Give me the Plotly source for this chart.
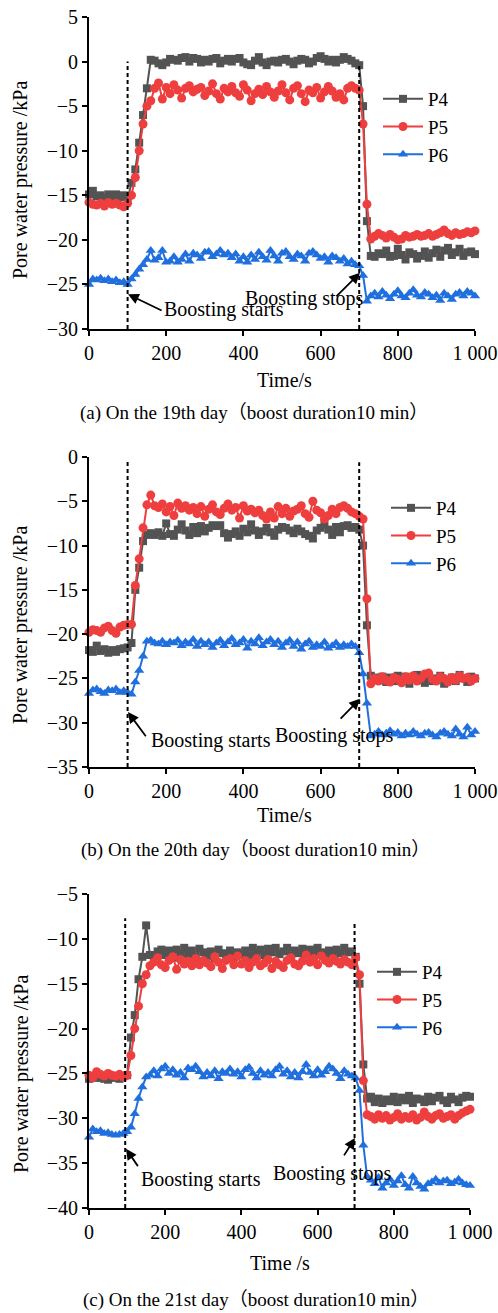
import plotly.graph_objects as go

# Sampling instants (s), one reading every 10 s
TIME = list(range(0, 1001, 10))

# ---- (a) 19th day ----
A_P4 = [-14.9, -14.5, -15.1, -15.0, -15.3, -14.9, -15.2, -14.9, -15.2, -15.0, -15.3,
        -13.6, -12.1, -9.1, -6.0, -3.0, 0.2,
        0.1, -0.2, -0.4, -0.1, 0.3, 0.2, 0.1, 0.4, 0.5, 0.0,
        0.4, 0.3, -0.1, 0.2, 0.0, 0.3, 0.4, -0.2, 0.1, 0.3,
        0.0, 0.3, 0.4, -0.1, -0.3, -0.4, 0.1, 0.5, -0.1, -0.4,
        0.0, 0.1, -0.1, 0.2, 0.3, 0.0, -0.3, 0.1, 0.3, 0.2,
        -0.2, 0.0, 0.4, 0.6, 0.3, 0.0, 0.2, -0.1, 0.2, 0.5,
        0.3, 0.1, -0.2,
        -0.4, -5.0, -17.9, -21.8,
        -21.9, -21.5, -21.6, -21.2, -21.9, -21.8, -21.0, -21.7, -22.2, -21.4,
        -21.6, -22.1, -21.8, -21.3, -22.0, -21.5, -21.1, -21.9, -21.2, -20.9,
        -21.7, -21.4, -21.0, -21.8, -21.4, -21.3, -21.6]
A_P5 = [-15.8, -16.0, -16.1, -15.9, -16.2, -15.8, -16.0, -15.9, -16.1, -16.3, -15.9,
        -15.0, -13.0, -10.0, -7.0, -5.0, -4.4,
        -3.0, -2.4, -4.2, -2.9, -3.6, -2.6, -3.2, -4.1, -3.0, -2.7,
        -3.4, -3.1, -2.9, -3.8, -3.3, -2.5, -3.6, -4.2, -3.0, -3.4,
        -2.8, -3.5, -3.9, -2.6, -3.2, -4.4, -3.6, -3.1, -3.7, -2.8,
        -3.4, -4.0, -3.3, -2.6, -3.5, -4.3, -3.0, -2.7, -3.6, -4.5,
        -3.2, -3.5, -2.9, -4.1, -3.4, -2.8, -3.3, -4.0, -3.6, -4.3,
        -3.0, -2.7, -3.0,
        -3.2, -7.0, -16.0, -19.9,
        -19.6, -19.3, -19.5, -19.8, -19.4, -19.7, -20.0, -19.9, -19.5, -19.7,
        -19.6, -19.4, -19.6, -19.5, -19.3, -19.6, -19.4, -19.2, -18.9, -19.3,
        -19.5, -19.2, -19.4, -19.3, -19.1, -19.2, -19.0]
A_P6 = [-25.0, -24.4, -24.5, -24.3, -24.6, -24.4, -24.7, -24.5, -24.8, -24.7, -25.0,
        -24.4, -23.9, -23.3, -22.8, -22.2, -21.2,
        -22.3, -22.0, -21.2, -22.5, -22.4, -21.9, -22.5, -22.2, -21.6, -22.4,
        -21.5, -21.7, -22.1, -21.4, -21.3, -21.9, -21.6, -21.2, -21.7, -21.5,
        -22.0, -21.6, -22.4, -21.9, -22.5, -21.7, -22.2, -21.4, -21.9, -22.3,
        -21.2, -21.8, -22.4, -21.5, -21.3, -21.9, -22.2, -21.6, -21.8, -22.4,
        -21.5, -21.3, -21.7, -22.1, -21.9, -22.5, -21.8, -22.0, -22.4, -22.1,
        -22.7, -22.4, -22.8,
        -22.9, -24.0, -26.9, -26.3,
        -26.0, -26.4, -25.8, -26.2, -26.6, -26.1, -25.7, -26.3, -26.5, -26.0,
        -25.6, -26.2, -26.4, -25.9, -26.1, -26.5, -26.2, -26.8, -26.0, -26.3,
        -26.7, -26.1, -25.9, -26.3, -25.8, -26.0, -26.3]

# ---- (b) 20th day ----
B_P4 = [-21.8, -22.0, -21.3, -21.9, -21.7, -22.1, -21.8, -22.0, -21.7, -21.6, -21.5,
        -21.0, -15.0, -12.5, -9.5, -8.8, -8.6,
        -8.8, -8.5, -8.9, -7.5, -8.7, -8.9, -8.2, -7.6, -8.3, -8.8,
        -7.9, -8.6, -7.8, -8.4, -8.0, -7.7, -7.8, -7.7, -8.6, -9.1,
        -8.7, -8.4, -8.9, -8.1, -8.5, -7.6, -8.3, -8.8, -8.4, -8.0,
        -8.5, -8.9, -8.2, -7.9, -8.0, -8.3, -8.6, -8.1, -8.4, -8.7,
        -8.9, -9.2, -8.3, -8.0, -7.6, -8.2, -8.8, -7.9, -8.5, -7.8,
        -7.7, -8.0, -7.9,
        -8.2, -10.0, -19.0, -24.7,
        -24.9, -25.2, -24.8, -25.4, -24.9, -25.3, -24.7, -25.1, -24.8, -25.6,
        -25.0, -24.6, -25.2, -25.5, -24.8, -25.3, -25.0, -24.7, -25.6, -25.2,
        -24.9, -25.3, -24.6, -25.0, -25.4, -24.8, -25.0]
B_P5 = [-19.8, -19.5, -19.6, -19.8, -19.3, -19.1, -19.6, -19.9, -19.2, -19.0, -18.9,
        -18.9, -14.5, -11.5, -8.0, -5.4, -4.3,
        -5.5, -5.7, -5.3, -6.2, -5.6, -6.6, -5.2, -5.8, -5.5, -6.0,
        -5.7, -6.4, -5.6, -6.7, -5.9, -5.4, -6.2, -6.5, -5.8, -5.3,
        -6.0, -5.7, -6.9, -5.5, -6.1, -5.9, -6.3, -6.0, -6.6, -7.0,
        -6.2, -6.9, -5.6, -6.4, -5.8, -6.7, -6.1, -5.9, -5.5, -6.4,
        -6.8, -5.0, -6.0, -6.3, -7.0, -6.6, -5.9, -6.4, -5.7, -5.5,
        -5.8, -6.2, -6.4,
        -6.7, -7.0, -16.0, -25.6,
        -25.0, -25.3, -24.8, -25.2, -25.4, -24.9, -25.1, -25.5, -24.8, -25.2,
        -24.7, -25.3, -25.0, -24.5, -24.4, -25.1, -25.3, -24.8, -25.0, -25.4,
        -24.9, -25.2, -24.7, -25.0, -24.9, -25.3, -25.0]
B_P6 = [-26.7, -26.3, -26.2, -26.5, -26.7, -26.3, -26.4, -26.2, -26.6, -26.4, -26.6,
        -26.8, -25.4, -24.1, -22.5, -20.8, -20.7,
        -21.0, -21.1, -20.8, -21.2, -20.9, -21.0, -20.7, -21.3, -20.9, -21.1,
        -20.6, -21.4, -20.8, -21.2, -20.9, -21.5, -21.0, -20.7, -21.3, -20.9,
        -20.5, -21.2, -21.0, -20.6, -21.6, -20.8, -21.1, -20.4, -21.3, -20.9,
        -20.6, -21.2, -20.8, -21.5, -21.0, -20.7, -21.4, -20.9, -21.7, -21.1,
        -20.8, -21.5, -21.2, -21.4, -20.9, -21.6, -21.3, -21.0, -21.5, -21.2,
        -21.4, -21.1, -21.4,
        -22.1, -24.5, -27.8, -31.5,
        -31.3, -31.0, -31.4, -31.2, -30.9, -31.3, -31.1, -31.5, -31.2, -31.4,
        -31.0, -31.3, -31.5, -31.2, -31.1, -31.4, -31.6, -31.2, -31.0, -31.3,
        -31.5, -30.7, -31.3, -31.6, -30.5, -31.4, -31.0]

# ---- (c) 21st day ----
C_P4 = [-25.6, -25.3, -25.5, -25.4, -25.6, -25.7, -25.5, -25.4, -25.6, -25.3, -25.2,
        -21.0, -18.5, -14.5, -12.0, -8.5, -11.8,
        -11.9, -11.4, -11.2, -11.8, -11.3, -12.1, -11.2, -11.6, -11.0, -11.7,
        -11.3, -12.0, -11.1, -11.5, -11.9, -11.4, -12.2, -11.2, -11.6, -11.9,
        -11.3, -12.1, -11.5, -11.8, -11.3, -11.9, -11.0, -11.6, -11.2, -11.8,
        -11.1, -11.5, -11.0, -11.7, -11.4, -11.0, -11.9, -11.3, -11.6, -11.1,
        -11.4, -11.2, -11.8, -11.0, -11.5, -11.9, -11.3, -11.7, -11.2, -11.6,
        -11.0, -11.5, -11.4,
        -12.0, -15.0, -24.0, -27.8,
        -27.6, -28.2, -27.8, -28.3, -27.9, -28.1, -27.6, -28.2, -27.7, -28.0,
        -27.5, -28.3, -27.8, -27.9, -28.2, -27.6, -28.1, -27.7, -27.5, -28.0,
        -28.3, -27.6, -27.9, -28.2, -27.7, -27.5, -27.6]
C_P5 = [-25.2, -25.5, -24.8, -25.1, -25.3, -25.0, -25.2, -25.3, -25.1, -25.4, -25.2,
        -23.0, -20.0, -17.5, -15.0, -14.0, -13.0,
        -12.6, -12.1, -12.9, -13.2, -12.4, -12.0, -13.4, -12.3, -12.8, -12.5,
        -13.0, -12.2, -12.9, -12.4, -12.7, -13.1, -12.0, -12.6, -13.3, -12.4,
        -12.2, -12.9, -11.9, -12.8, -12.4, -13.2, -12.6, -12.2, -13.0, -12.7,
        -12.3, -13.3, -12.5, -12.9, -13.2, -12.4, -12.1, -12.8, -13.0, -12.5,
        -11.8, -12.6, -12.2, -12.9, -11.9, -12.4, -12.7, -12.2, -12.5, -12.8,
        -12.3, -12.6, -12.9,
        -12.1, -14.0, -25.8, -29.6,
        -29.8, -30.1, -29.6, -30.0, -29.7, -30.2, -29.9, -29.5, -30.1, -29.8,
        -30.0, -29.6, -30.2, -29.9, -29.3, -29.8, -30.1, -29.7, -29.5, -30.0,
        -29.8, -29.6, -30.1, -29.7, -29.4, -29.2, -29.0]
C_P6 = [-32.1, -31.2, -31.5, -31.4, -31.7, -31.6, -31.8, -31.9, -31.8, -31.7, -31.5,
        -31.0, -29.5, -27.8, -26.5, -25.4, -25.2,
        -24.7, -25.3, -24.5, -24.2, -25.0, -24.6, -25.2, -24.9, -25.5, -24.4,
        -24.6, -24.2, -24.8, -25.4, -24.9, -25.3, -24.7, -25.6, -24.8, -25.0,
        -24.5, -25.1, -24.8, -25.4, -24.6, -24.3, -25.0, -25.5, -24.7, -25.2,
        -24.9, -25.3, -24.6, -24.2, -25.1, -24.7, -25.4, -24.9, -25.5, -24.8,
        -24.0, -24.9, -25.3, -24.6, -25.2, -24.8, -24.2, -24.5, -25.0, -25.6,
        -24.7, -25.1, -25.3,
        -25.5, -26.9, -33.0, -36.5,
        -36.9, -37.3, -36.6, -37.8, -37.2, -36.8, -37.5, -37.0, -36.4, -37.4,
        -37.8, -36.5, -37.2, -37.6, -37.9, -37.3, -37.1, -36.8, -37.2, -37.0,
        -36.9, -37.3, -37.1, -36.8, -37.2, -37.4, -37.5]

SERIES_NAMES = ["P4", "P5", "P6"]
X_TICKS = [0, 200, 400, 600, 800, 1000]
X_TICK_TEXT = ["0", "200", "400", "600", "800", "1 000"]
Y_RANGES = [(-30, 5), (-35, 0), (-40, -5)]
CAPTIONS = ["(a) On the 19th day（boost duration10 min）",
            "(b) On the 20th day（boost duration10 min）",
            "(c) On the 21st day（boost duration10 min）"]
X_TITLES = ["Time/s", "Time/s", "Time /s"]
Y_TITLE = "Pore water pressure /kPa"
BOOST_ON = [100, 100, 95]
BOOST_OFF = [700, 700, 697]

W, H = 498, 1313
FONT = "Liberation Serif, Noto Sans CJK SC, serif"
COLORS = ["#535353", "#ee3e3e", "#1f6fde"]
SYMBOLS = ["square", "circle", "triangle-up"]
SIZES = [8, 9, 9]


def px(xp):
    return xp / W


def py(yp):
    return 1 - yp / H


# plot-area pixel boxes: (left, right, top, bottom)
BOXES = [(89, 475, 17, 329), (89, 475, 457, 767), (89, 470, 894, 1208)]
DATA = [[A_P4, A_P5, A_P6], [B_P4, B_P5, B_P6], [C_P4, C_P5, C_P6]]
LEGEND_POS = [(378, 80), (386, 489), (372, 953)]
YTITLE_Y = [180, 625, 1074]
XTITLE_POS = [(284, 380), (284, 815), (280, 1263)]
CAPTION_POS = [(254, 413), (255, 850), (256, 1300)]
# arrows: (head_x, head_y, tail_x, tail_y) and label centres, in data units
START_ARROWS = [(101, -26.1, 192, -28.0), (101, -28.8, 150, -31.7), (97, -33.4, 131, -35.5)]
STOP_ARROWS = [(702, -23.7, 637, -26.5), (702, -27.3, 648, -29.7), (698, -32.2, 667, -34.3)]
START_TEXT = [(351, -27.8), (315, -32.0), (293, -36.8)]
STOP_TEXT = [(559, -26.6), (637, -31.4), (640, -36.2)]
DASH_TOP_ON = [0.0, -0.3, -7.7]
DASH_TOP_OFF = [-0.5, -0.6, -8.1]

fig = go.Figure()
layout = dict(template="none", width=W, height=H,
              margin=dict(l=0, r=0, t=0, b=0, pad=0, autoexpand=False),
              paper_bgcolor="white", plot_bgcolor="white",
              font=dict(family=FONT, size=20, color="black"))
annotations = []
shapes = []

for i in range(3):
    sfx = "" if i == 0 else str(i + 1)
    xa, ya = "x" + sfx, "y" + sfx
    leg = "legend" + sfx
    l, r, t, b = BOXES[i]
    for j in range(3):
        fig.add_trace(go.Scatter(
            x=TIME, y=DATA[i][j], name=SERIES_NAMES[j], xaxis=xa, yaxis=ya,
            mode="lines+markers", legend=leg, cliponaxis=False,
            line=dict(color=COLORS[j], width=2),
            marker=dict(symbol=SYMBOLS[j], size=SIZES[j], color=COLORS[j],
                        line=dict(width=0))))
    layout["xaxis" + sfx] = dict(
        domain=[px(l), px(r)], anchor=ya, range=[0, 1000], automargin=False,
        tickvals=X_TICKS, ticktext=X_TICK_TEXT, ticks="outside", ticklen=5,
        tickwidth=1.5, tickcolor="black", showline=True, linewidth=2,
        linecolor="black", showgrid=False, zeroline=False,
        tickfont=dict(size=20, family=FONT, color="black"))
    y0, y1 = Y_RANGES[i]
    layout["yaxis" + sfx] = dict(
        domain=[py(b), py(t)], anchor=xa, range=[y0, y1], dtick=5,
        automargin=False, ticks="outside", ticklen=5, tickwidth=1.5,
        tickcolor="black", showline=True, linewidth=2, linecolor="black",
        showgrid=False, zeroline=False,
        tickfont=dict(size=20, family=FONT, color="black"))
    lx, ly = LEGEND_POS[i]
    layout[leg] = dict(x=px(lx), y=py(ly), xanchor="left", yanchor="top",
                       bgcolor="rgba(0,0,0,0)", borderwidth=0,
                       font=dict(size=19, family=FONT, color="black"),
                       itemwidth=40, tracegroupgap=0)

    # boost start / stop markers
    for xv, top in ((BOOST_ON[i], DASH_TOP_ON[i]), (BOOST_OFF[i], DASH_TOP_OFF[i])):
        shapes.append(dict(type="line", xref=xa, yref=ya, x0=xv, x1=xv,
                           y0=y0, y1=top,
                           line=dict(color="black", width=2, dash="4px,3px")))

    for (hx, hy, tx, ty) in (START_ARROWS[i], STOP_ARROWS[i]):
        annotations.append(dict(x=hx, y=hy, xref=xa, yref=ya, ax=tx, ay=ty,
                                axref=xa, ayref=ya, text="", showarrow=True,
                                arrowhead=2, arrowsize=1.2, arrowwidth=1.8,
                                arrowcolor="black"))
    for (txt, (cx, cy)) in (("Boosting starts", START_TEXT[i]),
                            ("Boosting stops", STOP_TEXT[i])):
        annotations.append(dict(x=cx, y=cy, xref=xa, yref=ya, text=txt,
                                showarrow=False, font=dict(size=20, family=FONT),
                                xanchor="center", yanchor="middle"))

    annotations.append(dict(x=px(21), y=py(YTITLE_Y[i]), xref="paper", yref="paper",
                            text=Y_TITLE, textangle=-90, showarrow=False,
                            font=dict(size=20, family=FONT),
                            xanchor="center", yanchor="middle"))
    tx_, ty_ = XTITLE_POS[i]
    annotations.append(dict(x=px(tx_), y=py(ty_), xref="paper", yref="paper",
                            text=X_TITLES[i], showarrow=False,
                            font=dict(size=20, family=FONT),
                            xanchor="center", yanchor="middle"))
    cx_, cy_ = CAPTION_POS[i]
    annotations.append(dict(x=px(cx_), y=py(cy_), xref="paper", yref="paper",
                            text=CAPTIONS[i], showarrow=False,
                            font=dict(size=19, family=FONT),
                            xanchor="center", yanchor="middle"))

layout["annotations"] = annotations
layout["shapes"] = shapes
fig.update_layout(**layout)
fig.write_html("out.html")
